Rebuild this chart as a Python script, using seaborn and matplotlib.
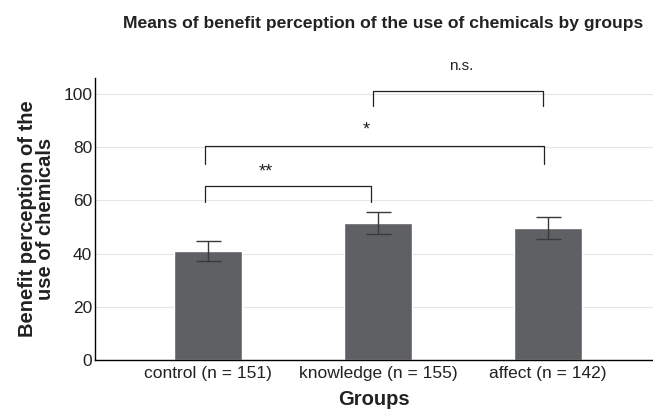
import matplotlib
matplotlib.use("Agg")
import matplotlib.pyplot as plt
import seaborn as sns
import pandas as pd

groups = ["control (n = 151)", "knowledge (n = 155)", "affect (n = 142)"]
means = [41.0, 51.5, 49.6]
errors = [3.9, 4.0, 4.0]

# significance brackets: (left, right, height, leg_bottom, label, label_x, label_y)
brackets = [
    (-0.02, 0.96, 65.3, 59.2, "**", 0.34, 70.5),
    (-0.02, 1.98, 80.5, 73.7, "*", 0.93, 86.5),
    (0.97, 1.97, 101.2, 95.5, "n.s.", 1.49, 110.5),
]

sns.set_theme(style="white")
plt.rcParams["font.family"] = ["Liberation Sans", "DejaVu Sans"]

df = pd.DataFrame({"group": groups, "mean": means, "err": errors})

fig = plt.figure(figsize=(6.53, 4.12), dpi=100)
ax = fig.add_axes([0.1455, 0.126, 0.8545, 0.685])

sns.barplot(data=df, x="group", y="mean", color="#5f6064", saturation=1,
            width=0.4, errorbar=None, ax=ax, zorder=2)
ax.errorbar(range(len(groups)), df["mean"], yerr=df["err"], fmt="none",
            ecolor="#3a3a3a", elinewidth=1.0, capsize=9, capthick=1.0, zorder=3)

ax.set_xlim(-0.665, 2.62)
ax.set_ylim(0, 106)
ax.set_yticks([0, 20, 40, 60, 80, 100])
ax.yaxis.grid(True, color="#e6e6e6", linewidth=0.8, zorder=0)
ax.set_axisbelow(True)

for side in ["top", "right"]:
    ax.spines[side].set_visible(False)
for side in ["left", "bottom"]:
    ax.spines[side].set_color("black")
    ax.spines[side].set_linewidth(1.0)

ax.tick_params(axis="y", labelsize=12.5, length=0, pad=2, colors="#222222")
ax.tick_params(axis="x", labelsize=12.5, length=0, pad=4, colors="#222222")

ax.set_xlabel("Groups", fontsize=14.5, fontweight="bold", labelpad=7, color="#222222")
ax.set_ylabel("Benefit perception of the\nuse of chemicals", fontsize=14.5,
              fontweight="bold", labelpad=6, color="#222222", linespacing=0.95)

for x0, x1, h, low, label, lx, ly in brackets:
    ax.plot([x0, x0, x1, x1], [low, h, h, low], color="#222222", lw=0.9,
            clip_on=False, zorder=4)
    ax.text(lx, ly, label, ha="center", va="center",
            fontsize=11 if label == "n.s." else 13,
            color="#222222", clip_on=False)

fig.text(0.5865, 0.942, "Means of benefit perception of the use of chemicals by groups",
         ha="center", va="center", fontsize=12.6, fontweight="bold", color="#222222")

fig.savefig("out.png", dpi=100)
